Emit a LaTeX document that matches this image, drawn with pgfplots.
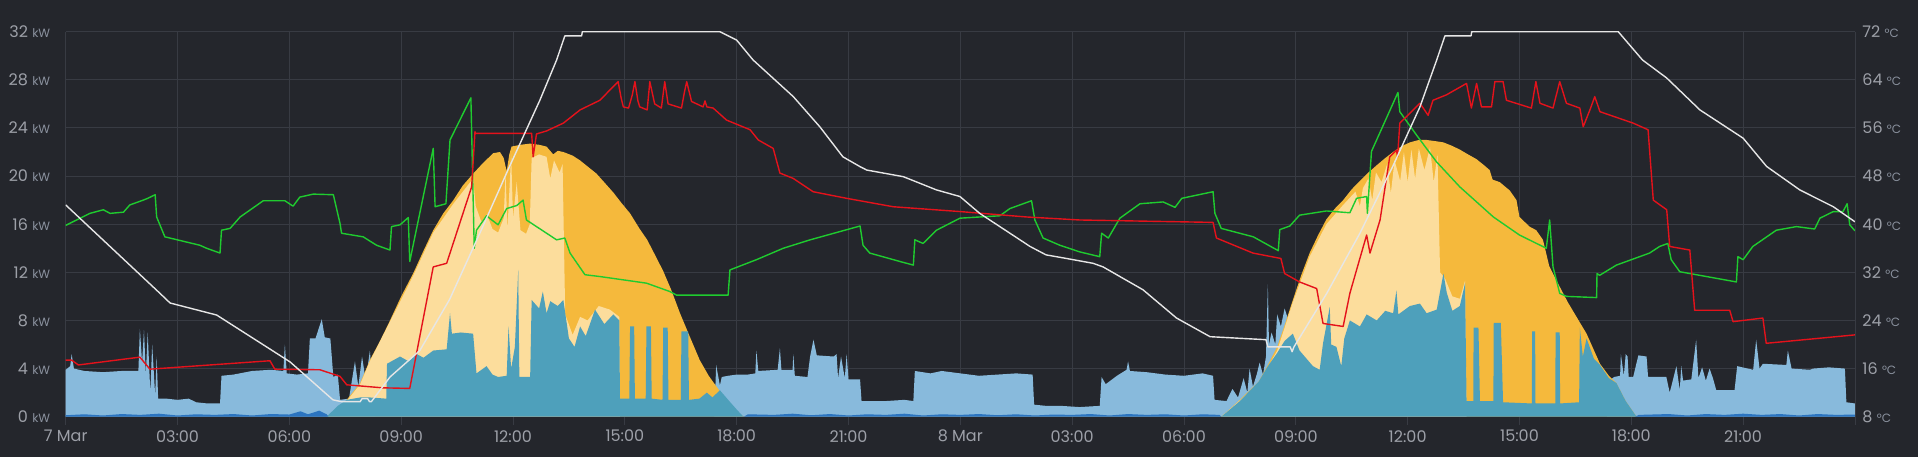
\documentclass[border=0pt]{standalone}
\usepackage{fontspec}
\setmainfont{Poppins}
\usepackage{pgfplots}
\pgfplotsset{compat=1.18}
\definecolor{bg}{HTML}{24262C}
\definecolor{gridc}{HTML}{383B43}
\definecolor{txt}{HTML}{9DA0A8}
\definecolor{unitc}{HTML}{8A919E}
\definecolor{solar}{HTML}{F5B93C}
\definecolor{solarlt}{HTML}{FCDD9C}
\definecolor{tealc}{HTML}{4EA0BB}
\definecolor{ltblue}{HTML}{88BADC}
\definecolor{dkblue}{HTML}{2B74C0}
\definecolor{grn}{HTML}{1FCB2F}
\definecolor{rd}{HTML}{E4121B}
\definecolor{wht}{HTML}{E6E6E6}
\newcommand{\kw}{{\fontsize{12}{12}\selectfont\color{unitc}kW}}
\newcommand{\dc}{{\fontsize{12}{12}\selectfont\color{unitc}°C}}
\begin{document}
\begin{tikzpicture}[x=1pt,y=1pt]
\fill[bg] (0,0) rectangle (1918,457);
\begin{axis}[
  at={(65.7pt,40.3pt)}, anchor=south west,
  scale only axis, width=1789.3pt, height=385pt,
  xmin=0, xmax=48, ymin=0, ymax=32,
  axis line style={draw=none},
  xtick={0,3,...,48},
  xticklabels={7 Mar,03:00,06:00,09:00,12:00,15:00,18:00,21:00,8 Mar,03:00,06:00,09:00,12:00,15:00,18:00,21:00,{}},
  ytick={0,4,...,32},
  yticklabels={0 \kw,4 \kw,8 \kw,12 \kw,16 \kw,20 \kw,24 \kw,28 \kw,32 \kw},
  grid=major, major grid style={gridc, line width=0.9pt},
  xtick pos=lower, ytick pos=left,
  tick align=outside, major tick length=8pt,
  xtick style={gridc, line width=0.9pt},
  ytick style={draw=none},
  ticklabel style={font=\fontsize{16}{16}\selectfont, text=txt},
  xticklabel style={yshift=-2pt},
  yticklabel style={xshift=-4pt},
]
% consumption (light blue)
\addplot[fill=ltblue, draw=none] coordinates {
(0,3.9)(0.12,4.2)(0.16,5.2)(0.22,4.0)(0.5,3.8)(1.0,3.7)(1.5,3.8)(1.95,3.8)(1.99,7.3)(2.05,4.5)(2.1,7.2)(2.15,3.5)(2.2,7.0)(2.27,2.0)(2.32,6.0)(2.4,1.8)(2.44,5.0)(2.48,1.5)(2.7,1.5)(3.0,1.4)(3.3,1.5)(3.5,1.2)(3.8,1.1)(4.14,1.1)(4.18,3.4)(4.5,3.5)(5.0,3.8)(5.5,3.9)(5.84,3.8)(5.88,6.0)(5.93,3.6)(6.2,3.5)(6.5,3.6)(6.55,6.5)(6.7,6.5)(6.87,8.1)(6.95,6.6)(7.1,6.5)(7.18,3.3)(7.3,3.5)(7.36,1.4)(7.6,1.5)(7.76,4.6)(7.85,2.5)(7.95,5.0)(8.05,3.0)(8.16,5.5)(8.25,2.0)(8.3,0)
(17.4,0)(17.45,4.3)(17.55,2.6)(17.6,3.3)(17.77,3.4)(18.0,3.5)(18.3,3.5)(18.5,3.6)(18.53,5.5)(18.58,3.8)(19.1,3.9)(19.16,5.7)(19.2,3.9)(19.5,3.9)(19.52,5.2)(19.56,3.4)(19.9,3.3)(19.97,5.0)(20.06,6.4)(20.15,5.1)(20.6,5.0)(20.68,5.2)(20.72,3.2)(20.8,5.0)(20.9,3.2)(20.95,5.2)(21.0,3.1)(21.31,3.1)(21.35,1.3)(22.0,1.3)(22.5,1.4)(22.74,1.3)(22.78,3.8)(23.2,3.6)(23.5,3.8)(24.0,3.6)(24.5,3.4)(25.0,3.5)(25.5,3.6)(25.94,3.5)(25.98,1.0)(26.3,0.9)(26.7,0.9)(27.2,0.8)(27.74,0.9)(27.79,3.3)(27.9,2.7)(28.2,3.4)(28.46,3.9)(28.5,4.6)(28.55,3.8)(29.0,3.7)(29.5,3.5)(30.0,3.4)(30.5,3.6)(30.78,3.4)(30.82,1.4)(31.14,1.3)(31.3,2.3)(31.45,1.6)(31.6,3.2)(31.7,2.0)(31.76,4.0)(31.85,2.5)(31.95,3.5)(32.03,4.5)(32.12,3.5)(32.2,5.0)(32.25,11.0)(32.28,6.0)(32.35,7.0)(32.45,6.0)(32.5,8.5)(32.6,7.5)(32.7,9.0)(32.8,8.0)(32.92,9.5)(33.0,0)
(41.35,0)(41.4,3.0)(41.54,3.3)(41.7,3.4)(41.72,5.2)(41.8,3.4)(41.85,5.2)(41.9,5.0)(41.93,3.3)(42.05,3.3)(42.19,5.1)(42.41,5.0)(42.45,3.3)(42.94,3.3)(43.03,2.0)(43.21,4.2)(43.3,2.2)(43.34,4.2)(43.39,3.0)(43.61,3.1)(43.74,6.4)(43.8,3.2)(43.9,4.1)(44.0,3.0)(44.1,4.0)(44.19,3.2)(44.28,2.2)(44.77,2.2)(44.84,4.2)(45.27,3.9)(45.35,6.4)(45.44,4.0)(45.53,4.4)(46.16,4.3)(46.2,5.5)(46.3,4.0)(46.79,3.9)(46.88,4.0)(47.3,4.1)(47.73,4.0)(47.77,1.2)(48,1.1)
} \closedcycle;
% solar production (orange)
\addplot[fill=solar, draw=none] coordinates {
(7.0,0)(7.3,0.6)(7.54,1.4)(7.9,2.8)(8.16,4.7)(8.45,6.4)(8.7,8.0)(9.0,10.0)(9.32,11.9)(9.6,13.8)(9.86,15.5)(10.13,16.9)(10.4,18.0)(10.65,19.2)(10.93,20.2)(11.2,21.1)(11.47,21.9)(11.65,22.0)(11.75,21.5)(11.83,20.4)(11.9,21.8)(11.96,22.45)(12.2,22.6)(12.46,22.7)(12.7,22.6)(12.9,22.45)(13.08,21.8)(13.2,22.1)(13.35,22.0)(13.6,21.7)(13.8,21.3)(14.0,20.8)(14.24,20.2)(14.5,19.3)(14.7,18.6)(14.9,17.8)(15.14,16.9)(15.4,15.6)(15.6,14.7)(15.8,13.5)(16.03,12.1)(16.25,10.5)(16.48,8.6)(16.75,6.6)(17.01,4.7)(17.25,3.4)(17.46,2.5)(17.7,1.5)(17.95,0.6)(18.18,0)
(31.0,0)(31.5,1.4)(32.0,2.9)(32.25,4.3)(32.5,5.8)(32.7,7.6)(32.92,9.7)(33.15,11.8)(33.37,13.6)(33.6,15.1)(33.82,16.4)(34.05,17.3)(34.27,18.0)(34.5,18.9)(34.72,19.6)(34.95,20.3)(35.17,20.9)(35.4,21.5)(35.61,22.0)(35.85,22.5)(36.06,22.8)(36.3,23.0)(36.51,23.0)(36.75,22.9)(36.96,22.8)(37.2,22.5)(37.4,22.2)(37.62,21.8)(37.85,21.4)(38.05,20.9)(38.2,20.5)(38.28,19.7)(38.47,19.5)(38.74,18.8)(38.92,18.0)(39.0,16.6)(39.27,15.8)(39.45,15.5)(39.63,14.7)(39.8,12.5)(40.08,10.8)(40.3,9.5)(40.53,8.3)(40.8,6.9)(41.16,4.4)(41.4,3.4)(41.6,2.8)(41.85,1.3)(42.14,0)
} \closedcycle;
% solar to storage (light yellow)
\addplot[fill=solarlt, draw=none] coordinates {
(7.0,0)(7.45,0.6)(7.54,1.3)(7.9,2.7)(8.16,4.6)(8.7,7.9)(9.32,11.7)(9.86,15.3)(10.4,17.7)(10.93,19.8)(11.0,17.5)(11.15,16.2)(11.3,16.8)(11.45,15.6)(11.6,15.3)(11.75,16.5)(11.8,20.3)(11.85,15.5)(11.95,21.8)(12.0,16.5)(12.1,19.5)(12.2,15.5)(12.35,15.2)(12.45,16.0)(12.5,21.5)(12.7,21.8)(12.9,21.6)(13.0,19.8)(13.1,21.3)(13.25,20.3)(13.33,21.0)(13.4,8.5)(13.6,6.8)(13.8,8.3)(14.0,8.0)(14.3,9.2)(14.6,8.9)(14.85,8.3)(14.87,0)
(31.0,0)(32.0,2.7)(32.5,5.5)(32.92,9.5)(33.37,13.3)(33.82,16.0)(34.27,17.6)(34.6,18.7)(34.72,17.5)(34.8,19.0)(34.95,19.8)(35.05,18.0)(35.15,20.3)(35.3,19.5)(35.45,21.0)(35.55,18.6)(35.65,21.3)(35.8,19.6)(35.9,22.0)(36.0,19.5)(36.1,22.2)(36.2,19.8)(36.3,22.3)(36.45,20.5)(36.6,22.4)(36.7,19.5)(36.8,21.8)(36.87,12.0)(37.0,11.5)(37.2,10.0)(37.4,9.8)(37.54,11.3)(37.58,0)
} \closedcycle;
% solar to house (teal)
\addplot[fill=tealc, draw=none] coordinates {
(7.0,0)(7.3,0.9)(7.54,1.4)(7.9,1.6)(8.16,1.6)(8.6,1.5)(8.62,4.4)(8.97,5.0)(9.2,4.6)(9.42,5.2)(9.6,4.9)(9.86,5.5)(10.22,5.6)(10.31,8.6)(10.36,6.9)(10.6,7.0)(10.93,6.9)(11.02,3.6)(11.29,4.2)(11.45,3.5)(11.6,3.3)(11.83,3.4)(11.88,7.5)(11.95,4.0)(12.05,5.8)(12.14,12.2)(12.17,3.3)(12.46,3.3)(12.5,9.7)(12.7,9.0)(12.8,10.4)(12.9,8.6)(13.0,9.6)(13.2,9.2)(13.35,9.7)(13.5,6.5)(13.65,5.8)(13.8,7.5)(13.95,6.7)(14.2,8.9)(14.45,7.7)(14.69,8.5)(14.85,8.0)(14.87,1.5)(15.12,1.5)(15.14,7.5)(15.25,7.5)(15.27,1.5)(15.56,1.5)(15.58,7.5)(15.7,7.5)(15.72,1.5)(16.01,1.4)(16.03,7.4)(16.15,7.4)(16.17,1.4)(16.5,1.4)(16.52,7.1)(16.7,7.1)(16.72,1.4)(17.0,1.5)(17.2,2.0)(17.35,1.6)(17.55,2.2)(17.8,1.3)(18.0,0.6)(18.18,0)
(31.0,0)(31.5,1.3)(32.0,2.9)(32.25,4.2)(32.5,5.3)(32.7,6.3)(32.92,6.9)(33.1,5.5)(33.46,4.2)(33.64,3.9)(33.73,6.1)(33.91,9.1)(33.95,6.0)(34.09,5.8)(34.22,4.2)(34.3,6.5)(34.45,8.0)(34.72,7.5)(34.9,8.5)(35.17,8.0)(35.4,8.8)(35.61,8.6)(35.7,10.5)(35.75,8.5)(36.06,9.2)(36.33,9.4)(36.51,8.6)(36.78,8.9)(36.96,11.9)(37.05,10.3)(37.2,8.8)(37.4,9.2)(37.54,11.1)(37.58,1.3)(37.76,1.3)(37.77,7.4)(37.9,7.4)(37.94,1.3)(38.3,1.3)(38.31,7.8)(38.5,7.8)(38.56,1.2)(39.33,1.1)(39.34,7.1)(39.42,7.1)(39.43,1.1)(39.96,1.1)(39.97,7.0)(40.08,7.0)(40.09,1.1)(40.6,1.2)(40.62,7.4)(40.7,5.0)(40.8,6.5)(41.0,4.8)(41.16,4.3)(41.4,3.2)(41.6,2.8)(41.85,1.3)(42.14,0)
} \closedcycle;
% grid import (dark blue strip)
\addplot[fill=dkblue, draw=none] coordinates {
(0,0.12)(0.5,0.2)(1,0.1)(1.5,0.22)(2,0.15)(2.5,0.25)(3,0.1)(3.5,0.2)(4,0.15)(4.5,0.22)(5,0.1)(5.5,0.22)(6,0.18)(6.3,0.45)(6.5,0.2)(6.8,0.5)(7.0,0.2)(7.05,0)
(18.2,0)(18.3,0.2)(19,0.15)(19.5,0.25)(20,0.12)(20.5,0.22)(21,0.1)(21.5,0.2)(22,0.15)(22.5,0.25)(23,0.1)(23.5,0.2)(24,0.15)(24.5,0.22)(25,0.12)(25.5,0.2)(26,0.1)(26.5,0.18)(27,0.15)(27.5,0.22)(28,0.1)(28.5,0.22)(29,0.15)(29.5,0.2)(30,0.1)(30.5,0.2)(30.95,0.15)(31.0,0)
(42.1,0)(42.2,0.15)(43,0.22)(43.5,0.1)(44,0.22)(44.5,0.15)(45,0.25)(45.5,0.15)(46,0.22)(46.5,0.1)(47,0.22)(47.5,0.15)(48,0.18)
} \closedcycle;
\end{axis}
\begin{axis}[
  at={(65.7pt,40.3pt)}, anchor=south west,
  scale only axis, width=1789.3pt, height=385pt,
  xmin=0, xmax=48, ymin=8, ymax=72,
  axis line style={draw=none},
  xtick=\empty,
  ytick={8,16,...,72},
  yticklabels={8 \dc,16 \dc,24 \dc,32 \dc,40 \dc,48 \dc,56 \dc,64 \dc,72 \dc},
  ytick pos=right, ytick style={draw=none},
  ticklabel style={font=\fontsize{16}{16}\selectfont, text=txt},
  yticklabel style={anchor=west, xshift=4pt},
  line join=round,
]
\addplot[grn, line width=1.4pt] coordinates {
(0,39.8)(0.65,41.8)(1.01,42.4)(1.19,41.8)(1.55,42.0)(1.72,43.2)(2.08,44.0)(2.2,44.3)(2.4,44.9)(2.44,41.2)(2.66,37.9)(3.6,36.5)(3.78,36.0)(4.14,35.2)(4.18,39.0)(4.41,39.3)(4.68,41.2)(5.3,43.9)(5.88,43.9)(6.1,43.0)(6.28,44.5)(6.64,45.0)(7.18,44.9)(7.36,40.1)(7.4,38.5)(7.98,37.9)(8.34,36.5)(8.7,35.7)(8.74,39.6)(8.97,39.9)(9.19,41.1)(9.23,33.8)(9.86,52.6)(9.91,42.9)(10.2,43.4)(10.31,54.0)(10.87,61.0)(10.96,36.0)(11.02,39.0)(11.29,41.4)(11.43,40.7)(11.6,39.9)(11.83,42.6)(12.1,43.1)(12.27,44.0)(12.36,40.7)(12.9,38.5)(13.17,37.4)(13.39,37.7)(13.53,35.2)(13.93,31.6)(14.33,31.3)(15.58,30.2)(16.21,28.8)(16.39,28.2)(17.77,28.2)(17.82,32.4)(18.53,34.1)(19.25,36.0)(19.97,37.4)(21.31,39.7)(21.39,36.5)(21.57,35.2)(22.38,33.8)(22.74,33.2)(22.78,37.4)(23.0,36.8)(23.36,39.0)(23.99,41.0)(25.06,41.4)(25.33,42.6)(25.91,43.9)(26.0,40.7)(26.22,37.7)(26.67,36.5)(27.2,35.4)(27.74,34.6)(27.79,38.5)(27.97,37.7)(28.28,41.0)(28.82,43.4)(29.44,43.7)(29.76,42.8)(29.94,44.3)(30.78,45.4)(30.83,41.8)(31.0,39.3)(31.86,37.9)(32.53,35.6)(32.57,39.1)(32.84,39.7)(33.1,41.5)(33.82,42.2)(34.45,41.9)(34.63,44.3)(34.9,44.6)(34.92,41.8)(35.03,52.1)(35.74,61.9)(35.79,58.7)(36.24,54.8)(36.77,50.4)(37.4,46.2)(38.3,41.2)(39.0,38.2)(39.72,36.0)(39.81,40.7)(39.9,32.9)(40.08,28.5)(40.26,28.0)(41.07,27.8)(41.08,31.8)(41.15,31.5)(41.6,33.2)(42.49,35.2)(42.76,36.3)(42.98,36.8)(43.07,34.1)(43.3,32.1)(44.82,30.4)(44.86,34.6)(45.0,34.1)(45.26,36.3)(45.89,39.0)(46.43,39.6)(46.92,39.2)(47.06,41.0)(47.42,42.1)(47.68,42.1)(47.79,43.4)(47.86,39.9)(48,38.9)
};
\addplot[rd, line width=1.4pt] coordinates {
(0,17.4)(0.16,17.4)(0.34,16.6)(1.99,17.9)(2.26,15.9)(5.48,17.3)(5.61,15.9)(6.82,15.8)(7.36,14.7)(7.54,13.3)(8.5,12.8)(9.23,12.7)(9.86,32.9)(10.22,33.5)(10.89,46.2)(10.98,55.4)(10.99,55.1)(12.5,55.1)(12.54,51.2)(12.63,55.0)(12.9,55.5)(13.35,56.8)(13.8,59.0)(14.33,60.6)(14.82,63.7)(14.9,61.0)(14.96,59.5)(15.1,59.3)(15.2,61.5)(15.27,63.7)(15.35,60.5)(15.4,59.5)(15.6,59.0)(15.67,63.7)(15.8,60.0)(15.98,59.3)(16.07,63.7)(16.16,60.0)(16.52,59.3)(16.6,62.0)(16.66,63.7)(16.79,60.4)(17.1,59.5)(17.15,60.5)(17.2,59.5)(17.37,59.3)(17.73,57.3)(18.36,55.7)(18.58,54.0)(18.98,52.6)(19.16,48.5)(19.52,47.6)(20.05,45.4)(20.95,44.3)(22.2,42.9)(23.99,42.1)(25.78,41.2)(27.2,40.7)(30.78,40.3)(30.87,37.7)(31.85,35.2)(32.6,34.3)(32.7,31.8)(33.1,30.4)(33.56,29.3)(33.73,23.5)(34.27,23.0)(34.45,28.5)(34.63,32.4)(34.9,38.2)(34.99,35.2)(35.26,40.7)(35.52,51.2)(35.7,52.3)(35.73,51.2)(35.79,56.8)(36.15,59.0)(36.33,60.1)(36.55,58.1)(36.68,60.6)(37.04,61.5)(37.58,63.4)(37.71,59.3)(37.85,63.4)(37.98,59.5)(38.25,59.5)(38.34,63.7)(38.56,63.7)(38.65,60.6)(39.32,59.3)(39.44,63.7)(39.55,60.1)(39.9,59.3)(40.08,63.7)(40.26,60.1)(40.62,59.3)(40.71,56.2)(40.89,59.0)(41.02,61.2)(41.16,58.7)(42.05,56.8)(42.45,55.7)(42.59,44.0)(42.95,42.4)(43.03,36.3)(43.57,35.7)(43.7,25.7)(44.64,25.7)(44.73,23.8)(45.53,24.4)(45.62,20.2)(48,21.6)
};
\addplot[wht, line width=1.4pt] coordinates {
(0,43.2)(2.53,28.5)(2.8,26.9)(4.05,24.9)(5.39,19.6)(6.02,17.1)(7.17,10.8)(7.4,10.5)(7.9,10.5)(7.95,11.0)(8.1,11.0)(8.15,10.5)(8.2,10.5)(8.7,14.6)(9.5,19.0)(10.3,27.5)(11.11,38.5)(11.9,49.5)(12.72,60.6)(13.17,67.3)(13.39,71.3)(13.84,71.3)(13.86,72)(17.55,72)(18.0,70.6)(18.44,67.3)(19.52,61.2)(20.23,56.2)(20.85,51.2)(21.3,49.6)(21.49,49.0)(22.47,47.9)(23.36,45.7)(23.99,44.6)(24.52,41.8)(25.87,36.3)(26.3,34.9)(26.85,34.3)(27.56,33.5)(27.83,32.9)(28.9,29.1)(29.8,24.4)(30.7,21.3)(32.2,20.8)(32.25,19.6)(32.85,19.6)(32.9,18.8)(32.95,19.6)(33.83,28.5)(34.72,38.5)(35.6,49.6)(36.33,59.5)(36.78,67.3)(37.0,71.3)(37.7,71.3)(37.72,72)(41.65,72)(42.3,67.3)(42.95,64.3)(43.84,59.0)(45.0,54.3)(45.63,49.6)(46.52,45.7)(47.42,42.9)(48,40.4)
};
\end{axis}
\pgfresetboundingbox
\useasboundingbox (0,0) rectangle (1918,457);
\end{tikzpicture}
\end{document}
